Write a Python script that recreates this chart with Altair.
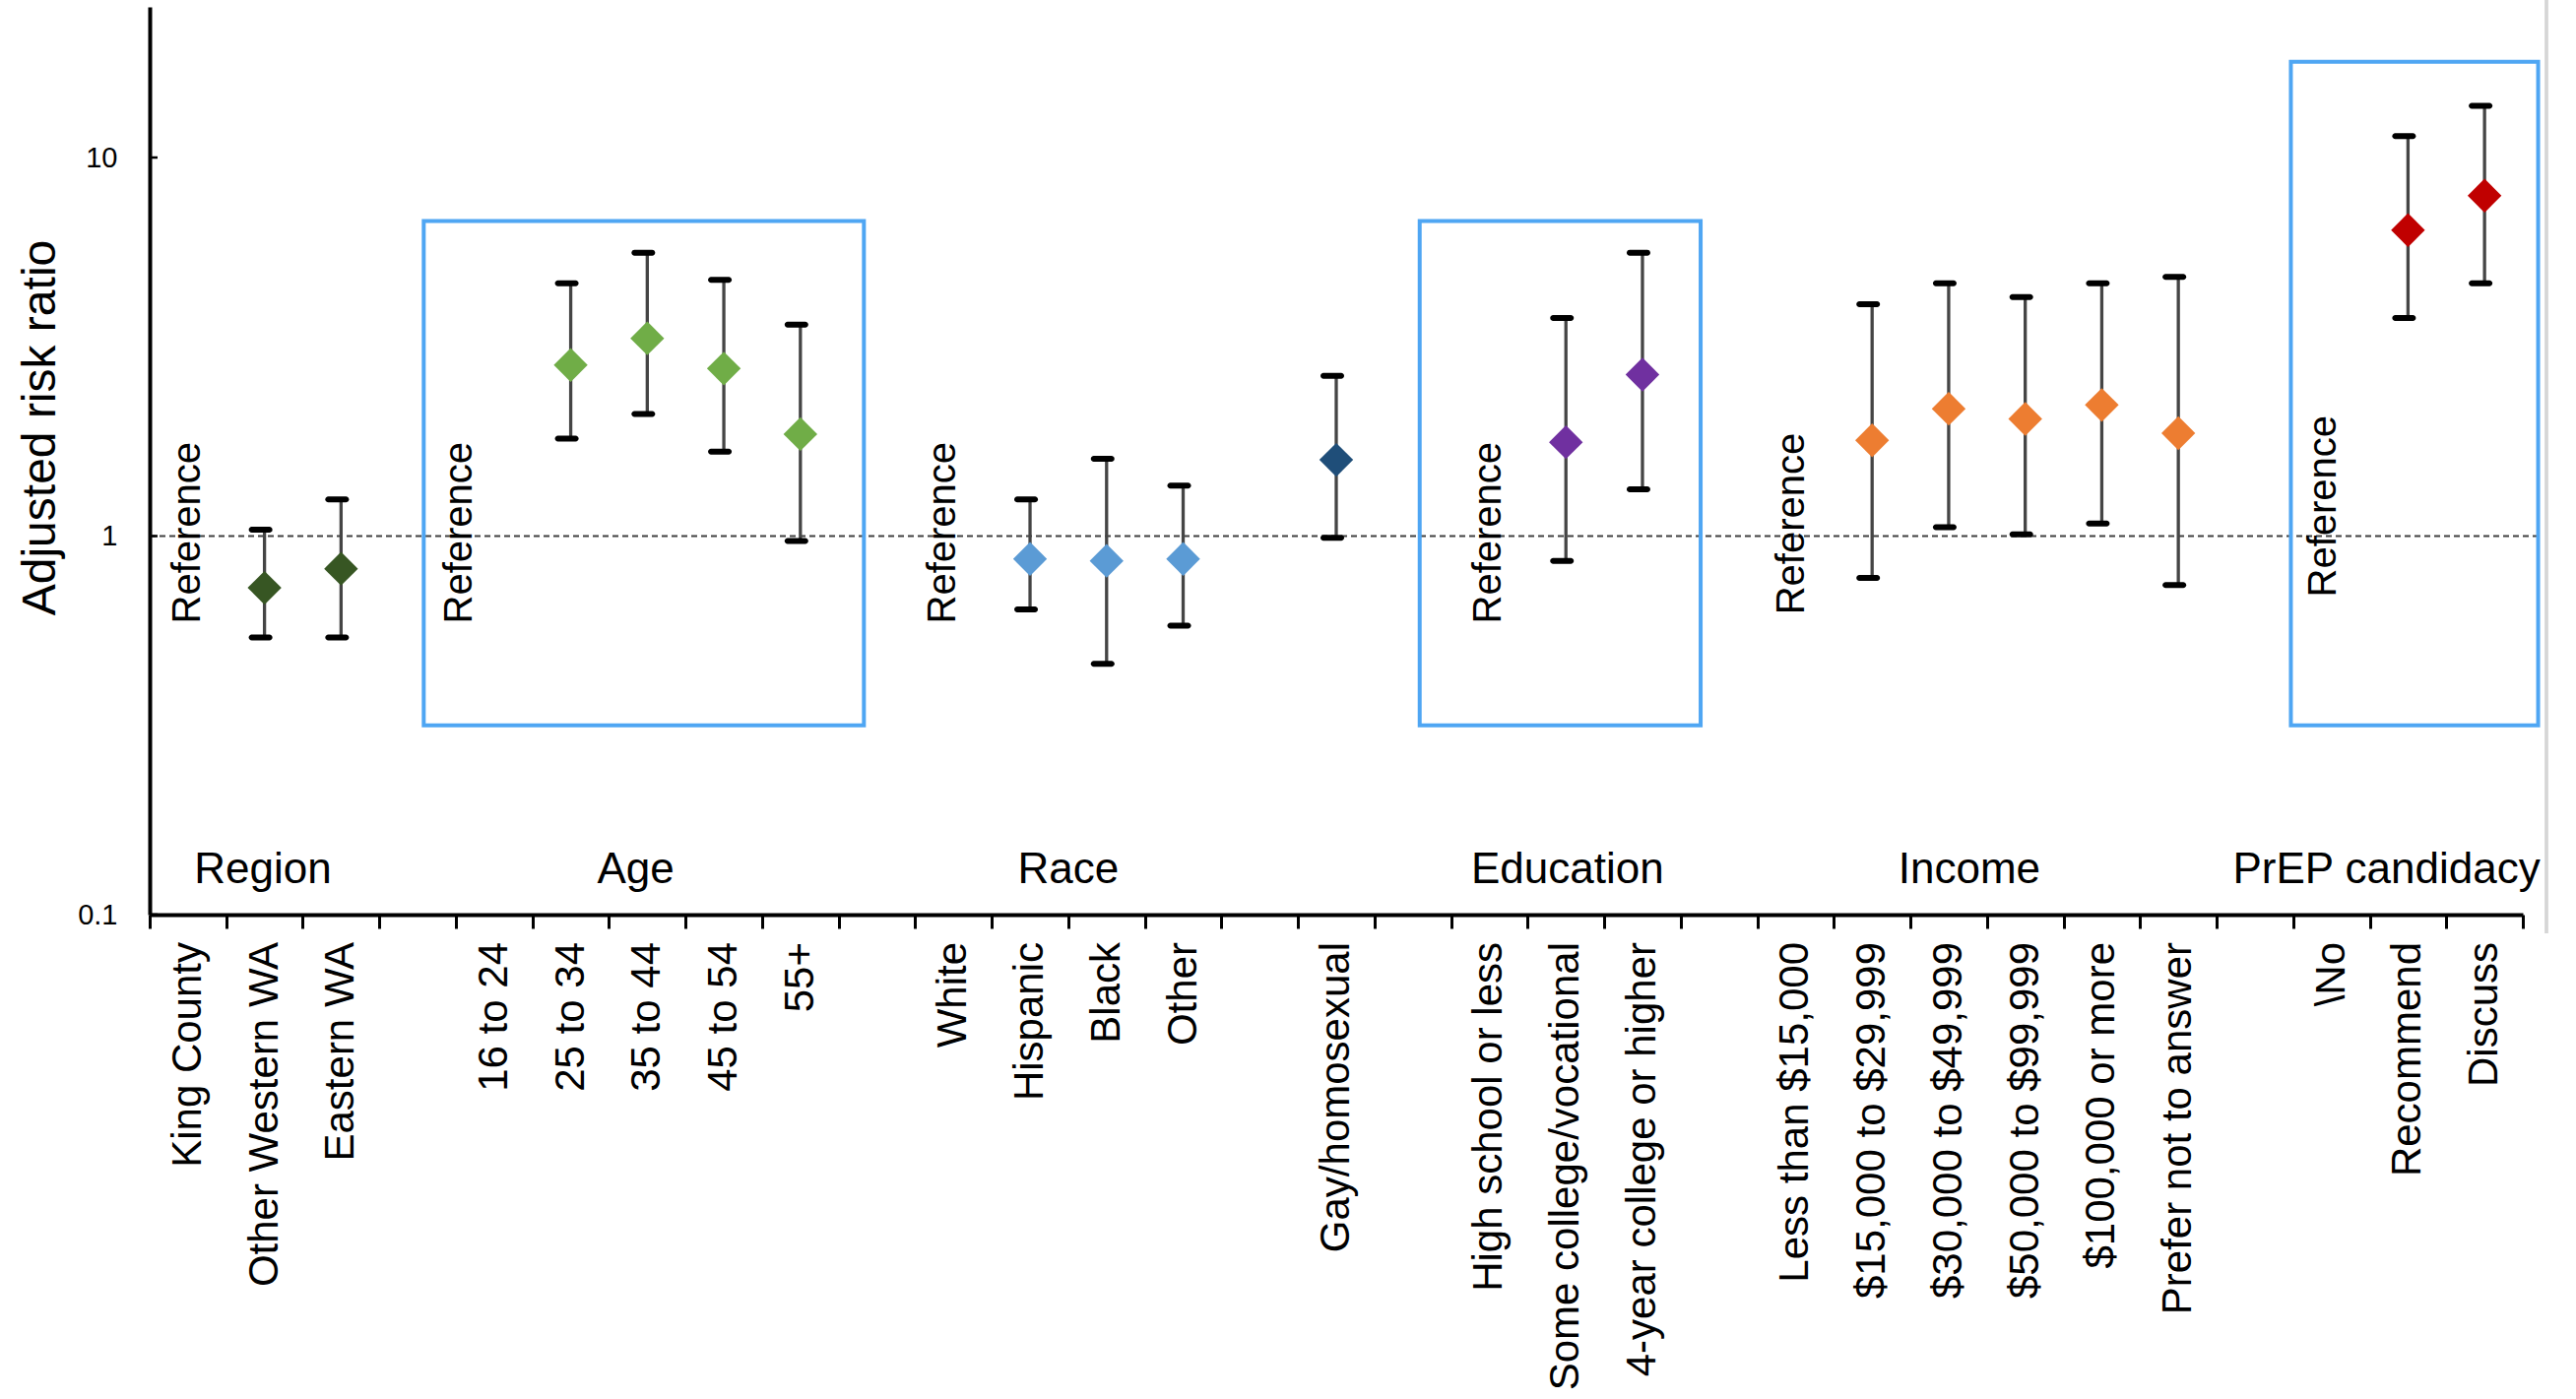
import altair as alt
import pandas as pd

# ---- data -------------------------------------------------------------
group_keys = ["Region", "Age", "Race", "Orientation", "Education", "Income", "PrEP"]
group_colors = ["#375623", "#70AD47", "#5B9BD5", "#1F4E79", "#7030A0", "#ED7D31", "#C00000"]

group_levels = [
    ["King County", "Other Western WA", "Eastern WA"],
    ["16 to 24", "25 to 34", "35 to 44", "45 to 54", "55+"],
    ["White", "Hispanic", "Black", "Other"],
    ["Gay/homosexual"],
    ["High school or less", "Some college/vocational", "4-year college or higher"],
    ["Less than $15,000", "$15,000 to $29,999", "$30,000 to $49,999",
     "$50,000 to $99,999", "$100,000 or more", "Prefer not to answer"],
    ["\\No", "Recommend", "Discuss"],
]

# adjusted risk ratios with 95% CI (None = reference level)
ratio = [
    [None, 0.73, 0.82],
    [None, 2.83, 3.33, 2.77, 1.86],
    [None, 0.87, 0.86, 0.87],
    [1.59],
    [None, 1.77, 2.67],
    [None, 1.79, 2.17, 2.04, 2.22, 1.87],
    [None, 6.43, 7.93],
]
ci_low = [
    [None, 0.54, 0.54],
    [None, 1.81, 2.10, 1.67, 0.97],
    [None, 0.64, 0.46, 0.58],
    [0.99],
    [None, 0.86, 1.33],
    [None, 0.775, 1.055, 1.01, 1.08, 0.742],
    [None, 3.77, 4.65],
]
ci_high = [
    [None, 1.04, 1.25],
    [None, 4.65, 5.6, 4.75, 3.62],
    [None, 1.25, 1.60, 1.36],
    [2.65],
    [None, 3.77, 5.6],
    [None, 4.10, 4.65, 4.28, 4.65, 4.84],
    [None, 11.4, 13.7],
]

# group headings (x in category slots, y in risk-ratio units)
heading_text = ["Region", "Age", "Race", "Education", "Income", "PrEP candidacy"]
heading_x = [1.48, 6.35, 12.0, 18.52, 23.77, 29.22]
heading_y = 0.121

# "Reference" notes beside each reference level
note_x = [0.5, 4.05, 10.37, 17.5, 21.45, 28.4]
note_y = [0.587, 0.587, 0.587, 0.587, 0.62, 0.69]

# highlighted groups
box_left = [3.58, 16.59, 27.97]
box_right = [9.33, 20.26, 31.2]
box_low = [0.316, 0.316, 0.316]
box_high = [6.8, 6.8, 17.9]

y_ticks = [0.1, 1, 10]

# ---- tables -----------------------------------------------------------
rows = []
slot = 0
for g, key in enumerate(group_keys):
    for i, level in enumerate(group_levels[g]):
        rows.append({
            "pos": slot + 0.5, "level": level, "group": key,
            "rr": ratio[g][i], "lo": ci_low[g][i], "hi": ci_high[g][i],
        })
        slot += 1
    slot += 1  # blank slot between groups
n_slots = slot - 1

df = pd.DataFrame(rows)
est = df.dropna(subset=["rr"])
notes_df = pd.DataFrame({"x": note_x, "y": note_y, "text": "Reference"})
titles_df = pd.DataFrame({"x": heading_x, "text": heading_text})
boxes_df = pd.DataFrame({"x": box_left, "x2": box_right, "y": box_low, "y2": box_high})
yticks_df = pd.DataFrame({"v": y_ticks})

# ---- chart ------------------------------------------------------------
W, H = 2410, 922
FONT = "Liberation Sans"

xs = alt.Scale(domain=[0, n_slots], nice=False, zero=False)
ys = alt.Scale(type="log", domain=[0.1, 25], nice=False)

x_axis = alt.Axis(values=list(range(n_slots + 1)), labels=False, title=None,
                  grid=False, tickSize=14, tickWidth=3, tickColor="black",
                  domainColor="black", domainWidth=4)
y_axis = alt.Axis(values=y_ticks, format="~g", title="Adjusted risk ratio",
                  grid=False, ticks=False,
                  domainColor="black", domainWidth=4,
                  labelFontSize=29, labelPadding=33, labelColor="black",
                  labelFont=FONT, titleFont=FONT, titleFontSize=48,
                  titleFontWeight="normal", titleColor="black",
                  titleAngle=270, titleBaseline="alphabetic",
                  titleX=-97, titleY=427)

X = alt.X("pos:Q", scale=xs, axis=x_axis)
Y = alt.Y("rr:Q", scale=ys, axis=y_axis)

ref_line = alt.Chart(pd.DataFrame({"v": [1]})).mark_rule(
    color="#404040", strokeWidth=2, strokeDash=[6, 4]
).encode(y=alt.Y("v:Q", scale=ys), x=alt.value(0), x2=alt.value(W + 15))

# short inward ticks on the y axis
y_tick_marks = alt.Chart(yticks_df).mark_rule(color="black", strokeWidth=2.5).encode(
    y=alt.Y("v:Q", scale=ys), x=alt.value(0), x2=alt.value(8)
)

# thin grey frame edge on the right
frame_edge = alt.Chart(yticks_df).mark_rule(color="#D6D6D6", strokeWidth=3).encode(
    x=alt.value(W + 24), y=alt.value(-7), y2=alt.value(941)
)

boxes = alt.Chart(boxes_df).mark_rect(
    fillOpacity=0, stroke="#4FA6F3", strokeWidth=4
).encode(
    x=alt.X("x:Q", scale=xs), x2="x2:Q",
    y=alt.Y("y:Q", scale=ys), y2="y2:Q",
)

whiskers = alt.Chart(est).mark_rule(color="#454545", strokeWidth=3.3).encode(
    x=alt.X("pos:Q", scale=xs), y=alt.Y("lo:Q", scale=ys), y2="hi:Q"
)
cap_style = dict(orient="horizontal", size=24, thickness=6, color="black",
                 opacity=1, xOffset=-4, cornerRadius=3)
cap_lo = alt.Chart(est).mark_tick(**cap_style).encode(
    x=alt.X("pos:Q", scale=xs), y=alt.Y("lo:Q", scale=ys)
)
cap_hi = alt.Chart(est).mark_tick(**cap_style).encode(
    x=alt.X("pos:Q", scale=xs), y=alt.Y("hi:Q", scale=ys)
)

diamonds = alt.Chart(est).mark_point(
    shape="diamond", filled=True, size=1180, opacity=1, strokeWidth=0
).encode(
    x=X, y=Y,
    color=alt.Color("group:N", scale=alt.Scale(domain=group_keys, range=group_colors),
                    legend=None),
)

ref_notes = alt.Chart(notes_df).mark_text(
    angle=270, align="left", baseline="middle", fontSize=40, font=FONT, color="black"
).encode(x=alt.X("x:Q", scale=xs), y=alt.Y("y:Q", scale=ys), text="text:N")

group_text = alt.Chart(titles_df).mark_text(
    align="center", baseline="alphabetic", fontSize=44, font=FONT, color="black"
).encode(x=alt.X("x:Q", scale=xs), y=alt.datum(heading_y), text="text:N")

level_labels = alt.Chart(df).mark_text(
    angle=270, align="right", baseline="middle", fontSize=42, font=FONT, color="black"
).encode(x=alt.X("pos:Q", scale=xs), y=alt.value(H + 28), text="level:N")

chart = alt.layer(
    ref_line, boxes, whiskers, cap_lo, cap_hi, diamonds, y_tick_marks,
    ref_notes, group_text, level_labels, frame_edge,
).properties(
    width=W, height=H,
    padding={"left": 152, "top": 7, "right": 54, "bottom": 492},
    autosize=alt.AutoSizeParams(type="none"),
    background="white",
).configure_view(stroke=None)

chart.save("out.html", embed_options={"renderer": "svg", "actions": False})
